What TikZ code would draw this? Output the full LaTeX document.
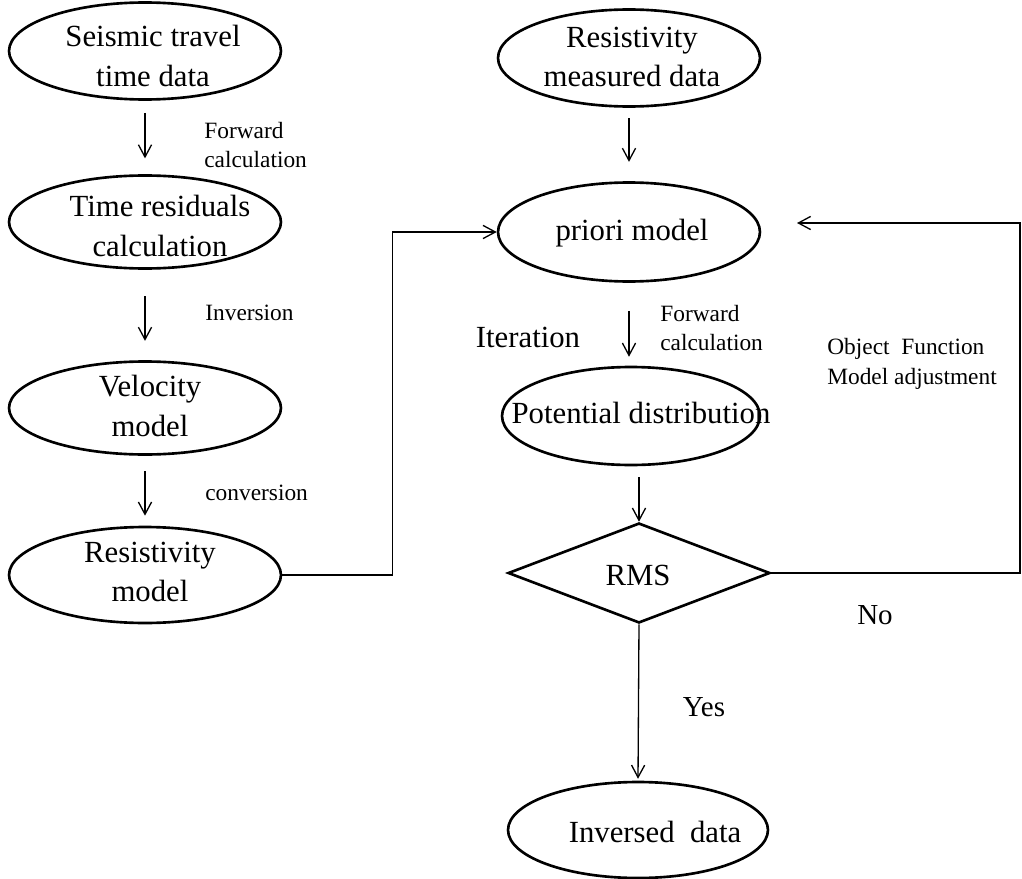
\documentclass[tikz,border=0pt]{standalone}
\usepackage{fontspec}
\setmainfont{Liberation Serif}
\usetikzlibrary{shapes.geometric,arrows.meta}

\tikzset{
  ell/.style={ellipse, draw, line width=1.5pt, inner sep=0pt},
  etxt/.style={align=center, inner sep=0pt, font=\fontsize{17.5}{22.7}\selectfont},
  note/.style={align=left, inner sep=0pt, font=\fontsize{13.3}{17}\selectfont},
  flow/.style={-{Straight Barb[length=7pt,width=7.5pt]}, line width=0.75pt},
}

\begin{document}
\begin{tikzpicture}[x=0.02cm, y=-0.02cm]
        \useasboundingbox (0,0) rectangle (1022,879);
        % Seismic branch
        \node[ell, minimum width=5.44cm, minimum height=1.94cm] (seis) at (145,51) {};
        \node[etxt] (seistxt) at (153,56) {Seismic travel\\time data};
        \node[ell, minimum width=5.44cm, minimum height=1.86cm] (tres) at (145,222) {};
        \node[etxt] (trestxt) at (160,226) {Time residuals\\calculation};
        \node[ell, minimum width=5.44cm, minimum height=1.86cm] (vel) at (145,408) {};
        \node[etxt] (veltxt) at (150,406) {Velocity\\model};
        \node[ell, minimum width=5.44cm, minimum height=1.92cm] (resm) at (145,575) {};
        \node[etxt] (resmtxt) at (150,572) {Resistivity\\model};
        \draw[flow, shorten <=6.8pt, shorten >=9pt] (seis.south) -- (tres.north);
        \node[note, anchor=west] (fwd1) at (204,145) {Forward\\calculation};
        \draw[flow, shorten <=15pt, shorten >=11pt] (tres.south) -- (vel.north);
        \node[note, anchor=west] (inv1) at (205,313) {Inversion};
        \draw[flow, shorten <=8.8pt, shorten >=5.7pt] (vel.south) -- (resm.north);
        \node[note, anchor=west] (conv) at (205,493) {conversion};

        % Resistivity branch
        \node[ell, minimum width=5.24cm, minimum height=1.94cm] (meas) at (629,58) {};
        \node[etxt] (meastxt) at (632,57) {Resistivity\\measured data};
        \node[ell, minimum width=5.24cm, minimum height=1.98cm] (prio) at (629,232) {};
        \node[etxt] (priotxt) at (632,233) {priori model};
        \node[ell, minimum width=5.16cm, minimum height=1.96cm] (pot) at (631,416) {};
        \node[etxt] (pottxt) at (641,413) {Potential distribution};
        \node[diamond, draw, line width=1.5pt, inner sep=0pt, aspect=2.6,
              minimum width=5.24cm, minimum height=2cm] (rms) at (639,573) {};
        \node[etxt] (rmstxt) at (638,575) {RMS};
        \node[ell, minimum width=5.2cm, minimum height=1.92cm] (inv) at (638,830) {};
        \node[etxt] (invtxt) at (655,832) {Inversed\enspace data};

        \draw[flow, shorten <=6pt, shorten >=11pt] (meas.south) -- (prio.north);
        \draw[flow, shorten <=16pt, shorten >=5.1pt] (prio.south) -- (prio.south |- pot.north);
        \node[note, anchor=west] (fwd2) at (660,328) {Forward\\calculation};
        \node[etxt] (iter) at (528,337) {Iteration};
        \draw[flow, shorten <=6.2pt] (rms.north |- pot.south) -- (rms.north);
        \draw[flow, shorten >=1.1pt] (rms.south) -- (inv.north);
        \node[etxt, font=\fontsize{16.5}{20}\selectfont] (yes) at (704,707) {Yes};
        \node[etxt, font=\fontsize{16.5}{20}\selectfont] (no) at (875,615) {No};
        \node[note, anchor=west] (objf) at (827,364) {Object\enspace Function\\Model adjustment};

        % connectors
        \draw[flow] (resm.east) -- ++(110,0) |- (prio.west);
        \coordinate (fbcorner) at (1020,223);
        \coordinate (fbtip) at (797,223);
        \draw[flow] (rms.east) -| (fbcorner) -- (fbtip);
\end{tikzpicture}
\end{document}
